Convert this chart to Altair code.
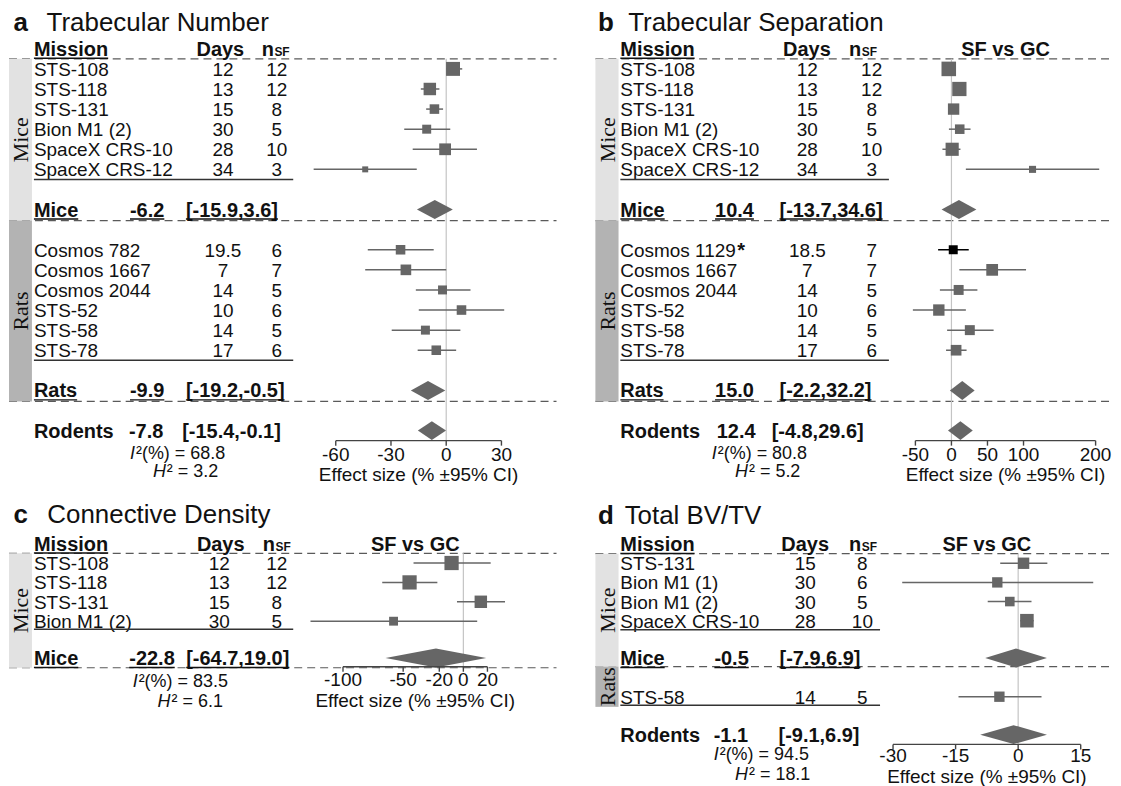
import altair as alt
import pandas as pd

SANS = "Liberation Sans"
SERIF = "Liberation Serif"
INK = "#111111"
MARK = "#666666"

# ================= DATA =================
# ---- a  Trabecular Number ----
a_mice_mission = ["STS-108", "STS-118", "STS-131", "Bion M1 (2)", "SpaceX CRS-10", "SpaceX CRS-12"]
a_mice_days = ["12", "13", "15", "30", "28", "34"]
a_mice_n = [12, 12, 8, 5, 10, 3]
a_mice_est = [3.7, -8.9, -6.4, -10.6, -0.6, -44.0]
a_mice_lo = [0.0, -13.8, -10.9, -22.8, -18.2, -72.0]
a_mice_hi = [8.7, -3.7, -1.7, 2.2, 16.7, -16.0]
a_mice_w = [19.6, 15.6, 9.2, 8.1, 13.9, 3.6]
a_rats_mission = ["Cosmos 782", "Cosmos 1667", "Cosmos 2044", "STS-52", "STS-58", "STS-78"]
a_rats_days = ["19.5", "7", "14", "10", "14", "17"]
a_rats_n = [6, 7, 5, 6, 5, 6]
a_rats_est = [-24.8, -21.9, -2.0, 8.3, -11.3, -5.4]
a_rats_lo = [-42.6, -44.0, -16.5, -14.9, -29.6, -15.5]
a_rats_hi = [-6.8, 0.0, 13.2, 31.5, 7.7, 5.4]
a_rats_w = [9.2, 11.4, 8.1, 9.2, 8.1, 9.2]
a_mice_summary = [-6.2, -15.9, 3.6]
a_rats_summary = [-9.9, -19.2, -0.5]
a_overall = [-7.8, -15.4, -0.1]
a_i2, a_h2 = "68.8", "3.2"
a_ticks = [-60, -30, 0, 30]

# ---- b  Trabecular Separation ----
b_mice_mission = ["STS-108", "STS-118", "STS-131", "Bion M1 (2)", "SpaceX CRS-10", "SpaceX CRS-12"]
b_mice_days = ["12", "13", "15", "30", "28", "34"]
b_mice_n = [12, 12, 8, 5, 10, 3]
b_mice_est = [-3.7, 11.0, 3.0, 11.5, 1.0, 112.5]
b_mice_lo = [-9.0, 5.0, -2.0, -3.5, -12.5, 20.0]
b_mice_hi = [2.0, 17.0, 8.0, 26.5, 12.5, 205.0]
b_mice_w = [21.3, 20.4, 13.0, 9.2, 17.4, 5.0]
b_rats_mission = ["Cosmos 1129", "Cosmos 1667", "Cosmos 2044", "STS-52", "STS-58", "STS-78"]
b_rats_flag = [True, False, False, False, False, False]
b_rats_days = ["18.5", "7", "14", "10", "14", "17"]
b_rats_n = [7, 7, 5, 6, 5, 6]
b_rats_est = [2.5, 56.5, 10.0, -17.5, 25.5, 6.5]
b_rats_lo = [-18.5, 11.0, -16.0, -53.5, -6.0, -7.5]
b_rats_hi = [24.0, 103.5, 36.0, 20.0, 58.5, 21.0]
b_rats_w = [8.1, 13.9, 10.0, 13.0, 10.0, 11.4]
b_mice_summary = [10.4, -13.7, 34.6]
b_rats_summary = [15.0, -2.2, 32.2]
b_overall = [12.4, -4.8, 29.6]
b_i2, b_h2 = "80.8", "5.2"
b_ticks = [-50, 0, 50, 100, 200]

# ---- c  Connective Density ----
c_mice_mission = ["STS-108", "STS-118", "STS-131", "Bion M1 (2)"]
c_mice_days = ["12", "13", "15", "30"]
c_mice_n = [12, 12, 8, 5]
c_mice_est = [-9.8, -44.7, 14.5, -58.0]
c_mice_lo = [-41.4, -67.4, -5.3, -127.0]
c_mice_hi = [22.7, -21.6, 34.6, 11.5]
c_mice_w = [20.4, 20.4, 15.6, 7.9]
c_mice_summary = [-22.8, -64.7, 19.0]
c_i2, c_h2 = "83.5", "6.1"
c_ticks = [-100, -50, -20, 0, 20]

# ---- d  Total BV/TV ----
d_mice_mission = ["STS-131", "Bion M1 (1)", "Bion M1 (2)", "SpaceX CRS-10"]
d_mice_days = ["15", "30", "30", "28"]
d_mice_n = [8, 6, 5, 10]
d_mice_est = [1.3, -5.0, -2.0, 2.1]
d_mice_lo = [-4.3, -27.8, -7.3, 0.5]
d_mice_hi = [7.0, 18.0, 3.2, 3.7]
d_mice_w = [13.0, 10.8, 9.2, 18.5]
d_rats_mission = ["STS-58"]
d_rats_days = ["14"]
d_rats_n = [5]
d_rats_est = [-4.5]
d_rats_lo = [-14.3]
d_rats_hi = [5.6]
d_rats_w = [10.8]
d_mice_summary = [-0.5, -7.9, 6.9]
d_overall = [-1.1, -9.1, 6.9]
d_i2, d_h2 = "94.5", "18.1"
d_ticks = [-30, -15, 0, 15]


def grp(name, mission, days, n, est, lo, hi, w, summary=None, flag=None):
    return dict(name=name, mission=mission, days=days, n=n, est=est, lo=lo, hi=hi, w=w,
                summary=summary, flag=flag if flag is not None else [False] * len(mission))


# ================= LAYOUT (page pixels / row units) =================
PA = dict(ox=8, oy=10, W=587, H=474, x0=446.4, k=1.846, y0=47.85, dy=20.15, rats="#b3b3b3")
PB = dict(ox=595, oy=10, W=518, H=474, x0=952.0, k=0.7228, y0=47.85, dy=20.15, rats="#b3b3b3")
PC = dict(ox=8, oy=484, W=587, H=300, x0=463.6, k=1.207, y0=542.0, dy=19.45, rats="#b3b3b3")
PD = dict(ox=595, oy=484, W=518, H=300, x0=1018.9, k=4.182, y0=542.5, dy=19.2, rats="#a3a3a3")

LAB = dict(title=-1.35, top=0.5,
           groups=[dict(first=1, ul=6.5, summ=8, dash=8.55, band=(0.5, 8.55)),
                   dict(first=10, ul=15.5, summ=17, dash=17.55, band=(8.55, 17.55))],
           overall=19, axis=19.5, ticklab=20.15, i2=20.1, h2=21.0, atitle=21.15)
LC = dict(title=-1.5, top=0.5,
          groups=[dict(first=1, ul=4.42, summ=5.9, dash=6.4, band=(0.5, 6.4))],
          overall=None, axis=6.35, ticklab=7.0, i2=7.1, h2=8.12, atitle=8.05)
LD = dict(title=-1.5, top=0.5,
          groups=[dict(first=1, ul=4.47, summ=5.95, dash=6.4, band=(0.5, 6.4)),
                  dict(first=7.97, ul=8.41, summ=None, dash=None, band=(6.4, 8.5))],
          overall=9.95, axis=10.46, ticklab=11.0, i2=10.98, h2=12.02, atitle=12.1)

XA = dict(band=(8, 31), name=33, days=222.5, n=276.4, hdr_days=196, hdr_n=261.4, ul=(33, 293),
          sval=129.3, sbr=185.4, oval=128.3, obr=181.7, ix=129.3, hx=152.3, letter=12.5, title=45.7,
          dash=(8, 557))
XB = dict(band=(595, 618.2), name=620, days=807.5, n=872, hdr_days=783.2, hdr_n=849.3, ul=(620, 889.3),
          sval=715, sbr=779.6, oval=716.7, obr=771.7, ix=711.7, hx=735, letter=597.5, title=627.9,
          dash=(595, 1113), star=737.2)
XC = dict(band=(8, 31), name=33, days=218.8, n=276.4, hdr_days=196.4, hdr_n=262.5, ul=(33, 293),
          sval=128.6, sbr=185.7, oval=128.6, obr=185.7, ix=132, hx=157, letter=12.5, title=46.4,
          dash=(8, 557))
XD = dict(band=(595, 618.2), name=620, days=805.5, n=862.7, hdr_days=781.4, hdr_n=849.3, ul=(620, 880.4),
          sval=714.3, sbr=779.6, oval=713.6, obr=778.6, ix=713.6, hx=735, letter=597.5, title=624.3,
          dash=(595, 1113))

BOLD_W = {' ': 278, '-': 333, '.': 278, ',': 278, '[': 333, ']': 333, 'M': 833, 'i': 278, 'c': 556,
          'e': 556, 'R': 722, 'a': 556, 't': 333, 's': 556, 'o': 611, 'd': 611, 'n': 611}
STAT_FS = 18


def bold_w(s, fs):
    return sum(BOLD_W.get(ch, 556) for ch in s) * fs / 1000.0


def fmt_sum(s):
    return f"{s[0]:.1f}", f"[{s[1]:.1f},{s[2]:.1f}]"


def make_panel(P, X, L, groups, overall, i2, h2, ticks, letter, title, sfgc):
    ox, oy, W, H, dy = P["ox"], P["oy"], P["W"], P["H"], P["dy"]
    xs = alt.Scale(domain=[(ox - P["x0"]) / P["k"], (ox + W - P["x0"]) / P["k"]], nice=False, zero=False)
    ys = alt.Scale(domain=[(oy - P["y0"]) / dy, (oy + H - P["y0"]) / dy], nice=False, zero=False,
                   reverse=True)

    def ex(f):
        return alt.X(f"{f}:Q", scale=xs, axis=None)

    def ey(f="r"):
        return alt.Y(f"{f}:Q", scale=ys, axis=None)

    def px(v):
        return alt.value(v - ox)

    def rp(p):
        return p / dy

    def txt(rows, texts, xpage, fs, weight="normal", align="left", style="normal", extra=0):
        df = pd.DataFrame({"r": rows, "t": texts})
        return alt.Chart(df).mark_text(align=align, baseline="alphabetic", dy=round(0.36 * fs) + extra,
                                       font=SANS, fontSize=fs, fontWeight=weight, fontStyle=style,
                                       color=INK).encode(x=px(xpage), y=ey(), text="t:N")

    def txt_v(vals, rows, texts, fs, weight="normal"):
        df = pd.DataFrame({"v": vals, "r": rows, "t": texts})
        return alt.Chart(df).mark_text(align="center", baseline="alphabetic", dy=round(0.36 * fs),
                                       font=SANS, fontSize=fs, fontWeight=weight,
                                       color=INK).encode(x=ex("v"), y=ey(), text="t:N")

    def hrule(rows, x1, x2, color, width, dash=None):
        df = pd.DataFrame({"r": rows})
        kw = dict(color=color, strokeWidth=width)
        if dash:
            kw["strokeDash"] = dash
        return alt.Chart(df).mark_rule(**kw).encode(x=px(x1), x2=px(x2), y=ey())

    layers = []
    # dashed separators
    dash_rows = [L["top"]] + [g["dash"] for g in L["groups"] if g["dash"] is not None]
    layers.append(hrule(dash_rows, X["dash"][0], X["dash"][1], "#5a5a5a", 1.2, [8, 5]))

    # species bands
    bdf = pd.DataFrame({"r": [g["band"][0] for g in L["groups"]],
                        "r2": [g["band"][1] for g in L["groups"]],
                        "grp": [g["name"] for g in groups]})
    bdf["m"] = (bdf["r"] + bdf["r2"]) / 2
    layers.append(alt.Chart(bdf).mark_rect().encode(
        x=px(X["band"][0]), x2=px(X["band"][1]), y=ey("r"), y2=alt.Y2("r2"),
        color=alt.Color("grp:N", scale=alt.Scale(domain=["Mice", "Rats"], range=["#e2e2e2", P["rats"]]),
                        legend=None)))
    layers.append(alt.Chart(bdf).mark_text(angle=270, align="center", baseline="middle", font=SERIF,
                                           fontSize=22, color=INK).encode(
        x=px((X["band"][0] + X["band"][1]) / 2 + 1), y=ey("m"), text="grp:N"))

    # zero reference line
    zdf = pd.DataFrame({"v": [0.0], "r": [L["top"]], "r2": [L["axis"]]})
    layers.append(alt.Chart(zdf).mark_rule(color="#c4c4c4", strokeWidth=1.2).encode(
        x=ex("v"), y=ey("r"), y2=alt.Y2("r2")))

    # header
    layers.append(txt([0], ["Mission"], X["name"], 20, "bold"))
    layers.append(hrule([rp(9.5)], X["name"], X["name"] + bold_w("Mission", 20), INK, 1.5))
    layers.append(txt([0], ["Days"], X["hdr_days"], 20, "bold"))
    layers.append(txt([0], ["n"], X["hdr_n"], 20, "bold"))
    layers.append(txt([0], ["SF"], X["hdr_n"] + bold_w("n", 20) + 0.5, 12, "bold", extra=3))
    if sfgc:
        layers.append(txt_v([(ticks[0] + ticks[-1]) / 2], [0], ["SF vs GC"], 20, "bold"))

    # title
    layers.append(txt([L["title"]], [letter], X["letter"], 26, "bold"))
    layers.append(txt([L["title"]], [title], X["title"], 26))

    diamonds = []
    for g, lg in zip(groups, L["groups"]):
        rows = [lg["first"] + i for i in range(len(g["mission"]))]
        layers.append(txt(rows, g["mission"], X["name"], 19))
        layers.append(txt(rows, g["days"], X["days"], 19, align="center"))
        layers.append(txt(rows, g["n"], X["n"], 19, align="center"))
        star_rows = [r for r, f in zip(rows, g["flag"]) if f]
        if star_rows:
            layers.append(txt(star_rows, ["*"] * len(star_rows), X["star"], 20, "bold"))
        layers.append(hrule([lg["ul"]], X["ul"][0], X["ul"][1], "#333333", 1.5))
        sdf = pd.DataFrame({"r": rows, "est": g["est"], "lo": g["lo"], "hi": g["hi"], "w": g["w"],
                            "hl": g["flag"]})
        col = alt.condition("datum.hl", alt.value("#000000"), alt.value(MARK))
        layers.append(alt.Chart(sdf).mark_rule(strokeWidth=1.5).encode(
            x=ex("lo"), x2=alt.X2("hi"), y=ey(), color=col))
        layers.append(alt.Chart(sdf).mark_square(opacity=1, filled=True).encode(
            x=ex("est"), y=ey(), color=col,
            size=alt.Size("w:Q", scale=alt.Scale(domain=[0, 20], range=[0, 200]), legend=None)))
        if g["summary"] is not None:
            r = lg["summ"]
            val, br = fmt_sum(g["summary"])
            layers.append(txt([r], [g["name"]], X["name"], 20, "bold"))
            layers.append(txt([r], [val], X["sval"], 20, "bold"))
            layers.append(txt([r], [br], X["sbr"], 20, "bold"))
            for s, xx in ((g["name"], X["name"]), (val, X["sval"]), (br, X["sbr"])):
                layers.append(hrule([r + rp(9.5)], xx, xx + bold_w(s, 20), INK, 1.4))
            diamonds.append((g["name"], g["summary"], r))

    if overall is not None:
        r = L["overall"]
        val, br = fmt_sum(overall)
        layers.append(txt([r], ["Rodents"], X["name"], 20, "bold"))
        layers.append(txt([r], [val], X["oval"], 20, "bold"))
        layers.append(txt([r], [br], X["obr"], 20, "bold"))
        diamonds.append(("Rodents", overall, r))

    hh = rp(9.5)
    drows = []
    for name, s, r in diamonds:
        drows += [dict(id=name, v=s[1], ya=r, yb=r), dict(id=name, v=s[0], ya=r - hh, yb=r + hh),
                  dict(id=name, v=s[2], ya=r, yb=r)]
    ddf = pd.DataFrame(drows)
    layers.append(alt.Chart(ddf).mark_area(color=MARK, opacity=1, orient="vertical").encode(
        x=ex("v"), y=ey("ya"), y2=alt.Y2("yb"), detail="id:N"))

    # axis
    adf = pd.DataFrame({"v": [ticks[0]], "v2": [ticks[-1]], "r": [L["axis"]]})
    layers.append(alt.Chart(adf).mark_rule(color="#444444", strokeWidth=1.4).encode(
        x=ex("v"), x2=alt.X2("v2"), y=ey()))
    tdf = pd.DataFrame({"v": ticks, "r": [L["axis"]] * len(ticks), "r2": [L["axis"] + rp(5)] * len(ticks)})
    layers.append(alt.Chart(tdf).mark_rule(color="#444444", strokeWidth=1.4).encode(
        x=ex("v"), y=ey("r"), y2=alt.Y2("r2")))
    layers.append(txt_v(ticks, [L["ticklab"]] * len(ticks), [str(t) for t in ticks], 19))
    layers.append(txt_v([(ticks[0] + ticks[-1]) / 2], [L["atitle"]], ["Effect size (% \u00b195% CI)"], 19))

    # heterogeneity
    fs = STAT_FS
    layers.append(txt([L["i2"]], ["I"], X["ix"], fs, style="italic"))
    layers.append(txt([L["i2"]], ["\u00b2(%) = " + i2], X["ix"] + 0.278 * fs + 1, fs))
    layers.append(txt([L["h2"]], ["H"], X["hx"], fs, style="italic"))
    layers.append(txt([L["h2"]], ["\u00b2 = " + h2], X["hx"] + 0.722 * fs + 1, fs))

    return alt.layer(*layers).properties(width=W, height=H)


groups_a = [grp("Mice", a_mice_mission, a_mice_days, a_mice_n, a_mice_est, a_mice_lo, a_mice_hi, a_mice_w,
                a_mice_summary),
            grp("Rats", a_rats_mission, a_rats_days, a_rats_n, a_rats_est, a_rats_lo, a_rats_hi, a_rats_w,
                a_rats_summary)]
groups_b = [grp("Mice", b_mice_mission, b_mice_days, b_mice_n, b_mice_est, b_mice_lo, b_mice_hi, b_mice_w,
                b_mice_summary),
            grp("Rats", b_rats_mission, b_rats_days, b_rats_n, b_rats_est, b_rats_lo, b_rats_hi, b_rats_w,
                b_rats_summary, b_rats_flag)]
groups_c = [grp("Mice", c_mice_mission, c_mice_days, c_mice_n, c_mice_est, c_mice_lo, c_mice_hi, c_mice_w,
                c_mice_summary)]
groups_d = [grp("Mice", d_mice_mission, d_mice_days, d_mice_n, d_mice_est, d_mice_lo, d_mice_hi, d_mice_w,
                d_mice_summary),
            grp("Rats", d_rats_mission, d_rats_days, d_rats_n, d_rats_est, d_rats_lo, d_rats_hi, d_rats_w)]

pa = make_panel(PA, XA, LAB, groups_a, a_overall, a_i2, a_h2, a_ticks, "a", "Trabecular Number", False)
pb = make_panel(PB, XB, LAB, groups_b, b_overall, b_i2, b_h2, b_ticks, "b", "Trabecular Separation", True)
pc = make_panel(PC, XC, LC, groups_c, None, c_i2, c_h2, c_ticks, "c", "Connective Density", True)
pd_ = make_panel(PD, XD, LD, groups_d, d_overall, d_i2, d_h2, d_ticks, "d", "Total BV/TV", True)

chart = (
    alt.vconcat(
        alt.hconcat(pa, pb, spacing=0),
        alt.hconcat(pc, pd_, spacing=0),
        spacing=0,
    )
    .properties(padding=0, background="white")
    .configure(font=SANS)
    .configure_view(strokeWidth=0, stroke="transparent")
)

chart.save("out.html", embed_options={"renderer": "svg", "actions": False})
